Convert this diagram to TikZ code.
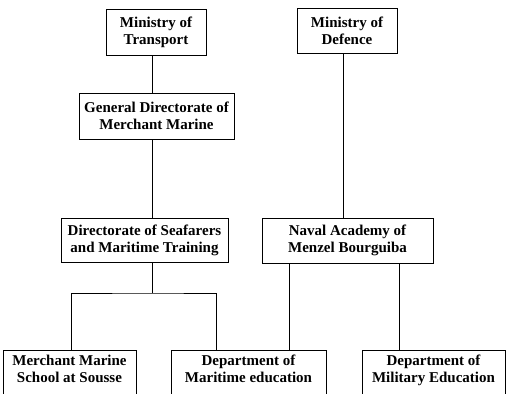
\documentclass[tikz,border=0pt]{standalone}
\usepackage{fontspec}
\setmainfont{Liberation Serif}
\usepackage{tikz}

\tikzset{
  unit/.style={draw, line width=0.9pt, align=center, inner sep=0pt,
               font=\fontsize{15}{17}\selectfont\bfseries},
  base unit/.style={unit, anchor=north, inner ysep=5pt, text depth=20pt},
  link/.style={line width=0.75pt}
}

\begin{document}
\begin{tikzpicture}[x=1pt,y=-1pt]
                \clip (0,0) rectangle (507,394);
                \node[unit, minimum width=100pt, minimum height=46pt] at (156,32)  (mot) {Ministry of\\Transport};
                \node[unit, minimum width=100pt, minimum height=45pt] at (347,30.5)  (mod) {Ministry of\\Defence};
                \node[unit, minimum width=155pt, minimum height=46pt] at (156.5,116)  (gdmm) {General Directorate of\\Merchant Marine};
                \node[unit, minimum width=167pt, minimum height=44pt] at (144.5,240)  (dsmt) {Directorate of Seafarers\\and Maritime Training};
                \node[unit, minimum width=171pt, minimum height=45pt] at (347.5,240.5)  (nav) {Naval Academy of\\Menzel Bourguiba};
                \node[base unit, minimum width=133pt] at (69.5,349.5)  (mms) {Merchant Marine\\School at Sousse};
                \node[base unit, minimum width=155pt] at (248.5,349.5)  (dme) {Department of\\Maritime education};
                \node[base unit, minimum width=143pt] at (433.5,349.5)  (dmil) {Department of\\Military Education};
                \coordinate (split) at (152,293);
                \draw[link] ([xshift=-4pt]mot.south) -- ([xshift=-4pt]mot.south |- gdmm.north);
                \draw[link] ([xshift=-4.5pt]gdmm.south) -- ([xshift=-4.5pt]gdmm.south |- dsmt.north);
                \draw[link] ([xshift=-4pt]mod.south) -- ([xshift=-4pt]mod.south |- nav.north);
                \draw[link] (split |- dsmt.south) -- (split);
                \draw[link] ([xshift=1.5pt]mms.north) |- (split) -| ([xshift=-32.5pt]dme.north);
                \draw[link] ([xshift=-58.5pt]nav.south) -- ([xshift=-58.5pt]nav.south |- dme.north);
                \draw[link] ([xshift=51.5pt]nav.south) -- ([xshift=51.5pt]nav.south |- dmil.north);
            \end{tikzpicture}
\end{document}
